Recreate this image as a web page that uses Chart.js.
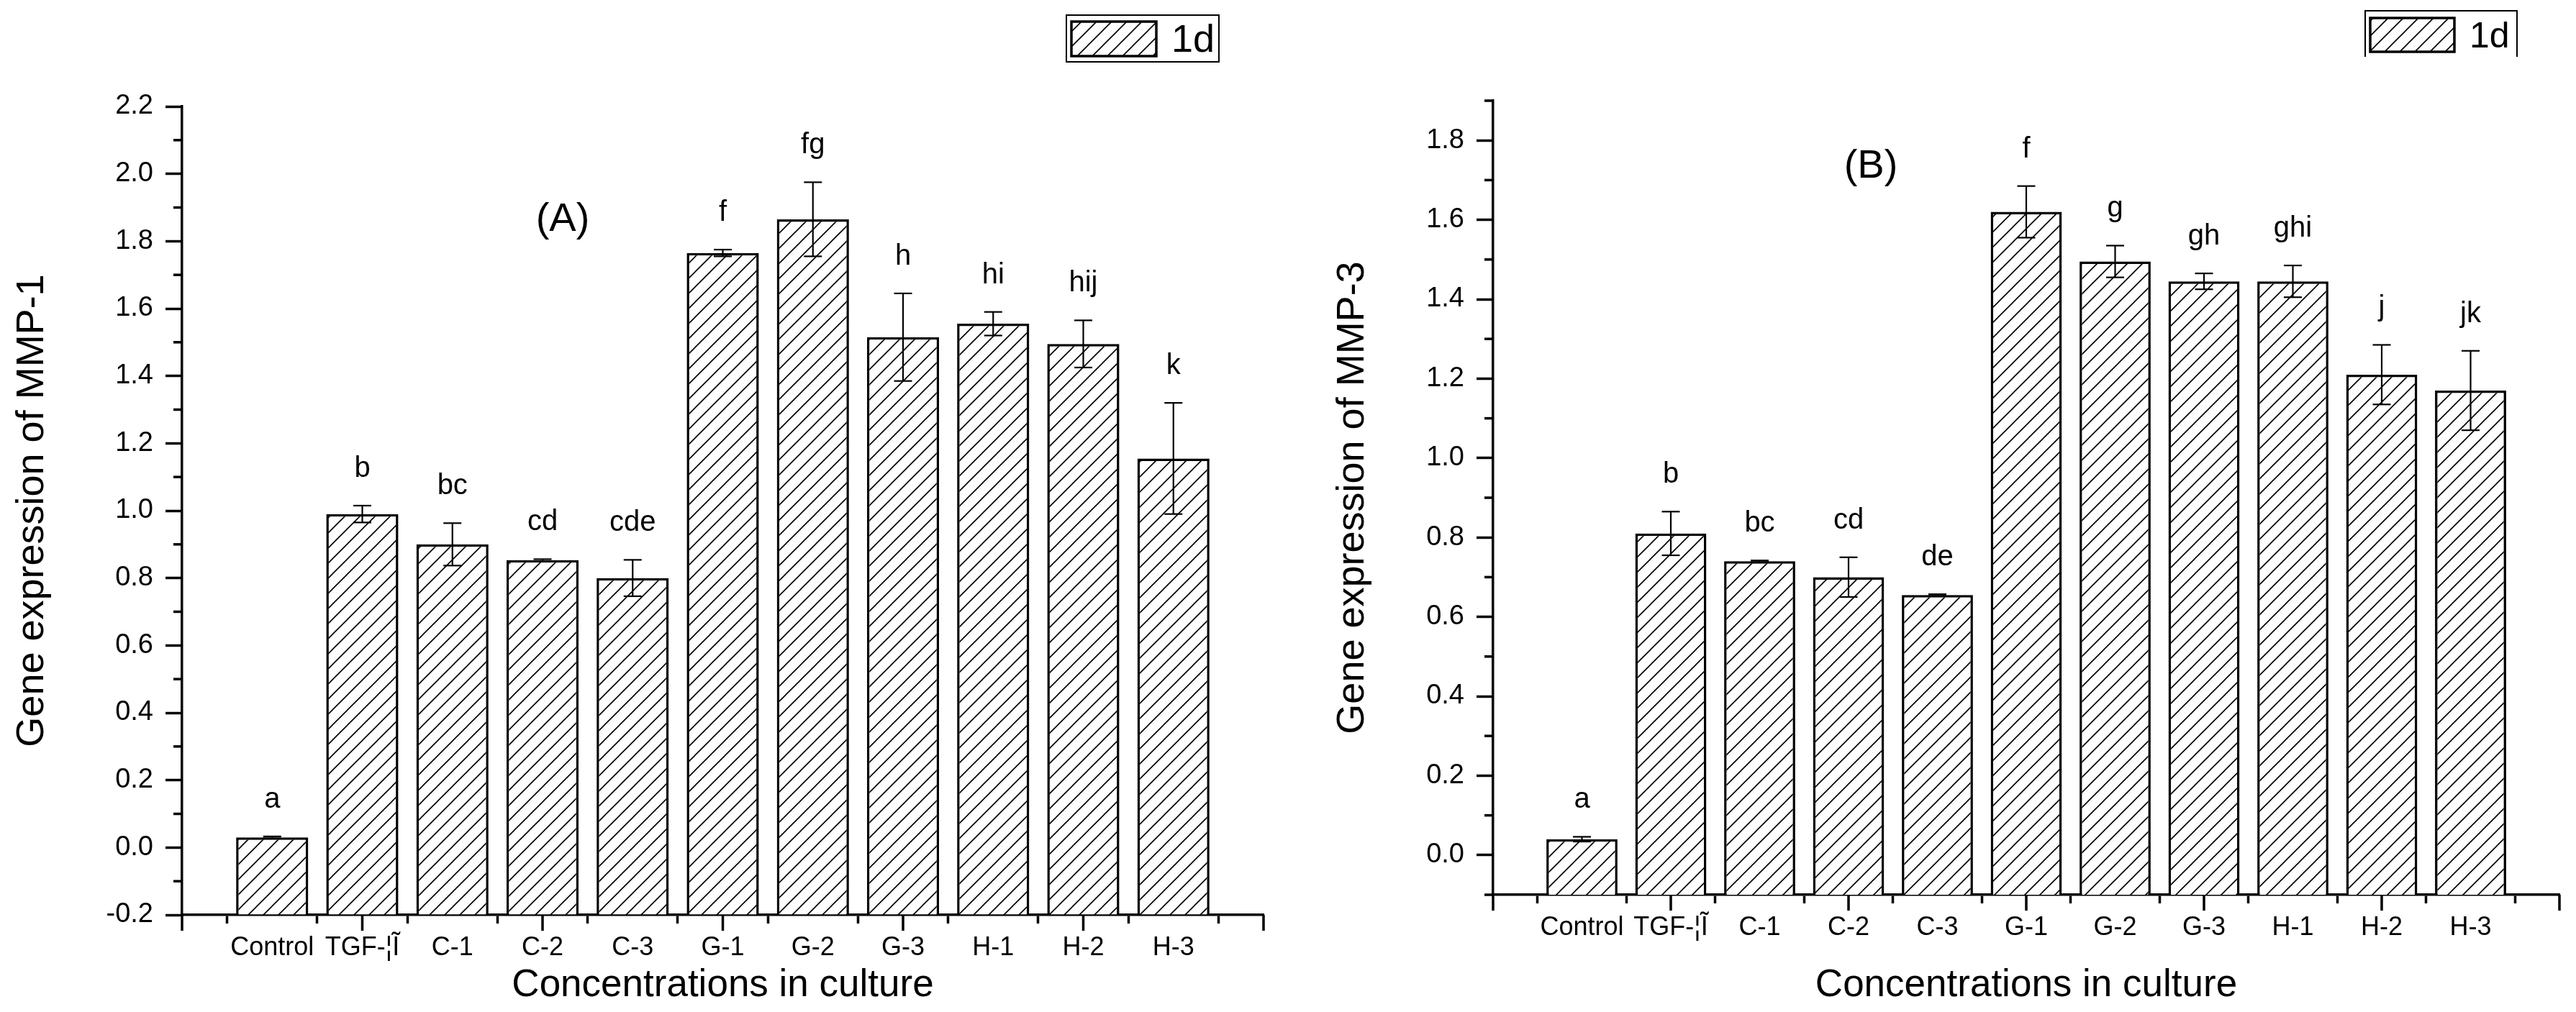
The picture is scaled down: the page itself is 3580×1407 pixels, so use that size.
<!DOCTYPE html>
<html>
<head>
<meta charset="utf-8">
<script src="https://cdn.jsdelivr.net/npm/chart.js@4.4.1/dist/chart.umd.min.js"></script>
<style>
  html, body { margin: 0; padding: 0; background: #fff; }
  #wrap { position: relative; width: 3580px; height: 1407px; }
  .panel { position: absolute; top: 0; width: 1790px; height: 1407px; }
</style>
</head>
<body>
<div id="wrap">
  <div class="panel" style="left:0"><canvas id="chartA" width="1790" height="1407"></canvas></div>
  <div class="panel" style="left:1790px"><canvas id="chartB" width="1790" height="1407"></canvas></div>
</div>
<script>
// categories on the x axis (TGF label kept as printed in the figure)
const categories = ['Control', 'TGF-¦Ĩ', 'C-1', 'C-2', 'C-3', 'G-1', 'G-2', 'G-3', 'H-1', 'H-2', 'H-3'];
const seriesLabel = '1d';

// panel A: MMP-1
const mmp1Values  = [0.03, 0.99, 0.90, 0.853, 0.80, 1.765, 1.865, 1.515, 1.555, 1.495, 1.155];
const mmp1Errors  = [0.003, 0.025, 0.063, 0.003, 0.054, 0.01, 0.11, 0.13, 0.035, 0.07, 0.165];
const mmp1Letters = ['a', 'b', 'bc', 'cd', 'cde', 'f', 'fg', 'h', 'hi', 'hij', 'k'];
const mmp1Range   = [-0.2, 2.2];
const mmp1Ticks   = [-0.2, 0.0, 0.2, 0.4, 0.6, 0.8, 1.0, 1.2, 1.4, 1.6, 1.8, 2.0, 2.2];

// panel B: MMP-3
const mmp3Values  = [0.04, 0.81, 0.74, 0.70, 0.655, 1.62, 1.495, 1.445, 1.445, 1.21, 1.17];
const mmp3Errors  = [0.006, 0.055, 0.002, 0.05, 0.002, 0.065, 0.04, 0.02, 0.04, 0.075, 0.10];
const mmp3Letters = ['a', 'b', 'bc', 'cd', 'de', 'f', 'g', 'gh', 'ghi', 'j', 'jk'];
const mmp3Range   = [-0.1, 1.9];
const mmp3Ticks   = [0.0, 0.2, 0.4, 0.6, 0.8, 1.0, 1.2, 1.4, 1.6, 1.8];

const FONT = "'Liberation Sans', Arial, sans-serif";

function hatchPattern(ctx) {
  const s = 21;
  const c = document.createElement('canvas');
  c.width = s; c.height = s;
  const g = c.getContext('2d');
  g.fillStyle = '#fff';
  g.fillRect(0, 0, s, s);
  g.strokeStyle = '#000';
  g.lineWidth = 1.6;
  g.beginPath();
  g.moveTo(-3, s + 3); g.lineTo(s + 3, -3);
  g.moveTo(-3, 3); g.lineTo(3, -3);
  g.moveTo(s - 3, s + 3); g.lineTo(s + 3, s - 3);
  g.stroke();
  return ctx.createPattern(c, 'repeat');
}

function line(ctx, x1, y1, x2, y2) {
  ctx.beginPath(); ctx.moveTo(x1, y1); ctx.lineTo(x2, y2); ctx.stroke();
}

// error bars, significance letters, minor ticks, panel tag and legend box
const extras = {
  id: 'extras',
  afterDraw(chart, args, o) {
    const { ctx, chartArea: area, scales: { x, y } } = chart;
    const meta = chart.getDatasetMeta(0);
    ctx.save();
    ctx.strokeStyle = '#000';
    ctx.fillStyle = '#000';

    // minor ticks halfway between the labelled ones
    ctx.lineWidth = 3.5;
    for (let v = o.ticks[0] - 0.1; v < y.max + 0.05; v += 0.2) {
      if (v < y.min - 0.05) continue;
      const py = y.getPixelForValue(v);
      line(ctx, area.left - 12, py, area.left, py);
    }
    // every second category slot has a long tick
    for (let i = 0; i < x.ticks.length; i += 2) {
      const px = x.getPixelForTick(i);
      line(ctx, px, area.bottom, px, area.bottom + 22);
    }

    ctx.font = '40px ' + FONT;
    ctx.textAlign = 'center';
    ctx.textBaseline = 'alphabetic';
    meta.data.forEach((bar, i) => {
      const k = i - 1;
      if (k < 0 || k >= o.values.length) return;
      const v = o.values[k], e = o.errors[k];
      const top = y.getPixelForValue(v + e), bot = y.getPixelForValue(v - e);
      ctx.lineWidth = 2.2;
      line(ctx, bar.x, top, bar.x, bot);
      line(ctx, bar.x - 12.5, top, bar.x + 12.5, top);
      line(ctx, bar.x - 12.5, bot, bar.x + 12.5, bot);
      ctx.fillText(o.letters[k], bar.x, top - 40);
    });

    // panel tag
    ctx.font = '56px ' + FONT;
    ctx.textBaseline = 'middle';
    ctx.fillText(o.tag, o.tagAt[0], o.tagAt[1]);

    // legend
    const L = o.legend;
    ctx.lineWidth = 2;
    ctx.beginPath();
    ctx.moveTo(L.box[0], L.box[1] + L.box[3]);
    ctx.lineTo(L.box[0], L.box[1]);
    ctx.lineTo(L.box[0] + L.box[2], L.box[1]);
    ctx.lineTo(L.box[0] + L.box[2], L.box[1] + L.box[3]);
    if (L.closed) ctx.closePath();
    ctx.stroke();
    ctx.fillStyle = chart.data.datasets[0].backgroundColor;
    ctx.fillRect(L.swatch[0], L.swatch[1], L.swatch[2], L.swatch[3]);
    ctx.lineWidth = 3.5;
    ctx.strokeRect(L.swatch[0], L.swatch[1], L.swatch[2], L.swatch[3]);
    ctx.fillStyle = '#000';
    ctx.font = L.size + 'px ' + FONT;
    ctx.textAlign = 'left';
    ctx.textBaseline = 'alphabetic';
    ctx.fillText(chart.data.datasets[0].label, L.text[0], L.text[1]);
    ctx.restore();
  }
};

function makeChart(id, values, errors, letters, range, ticks, yTitle, geo) {
  const ctx = document.getElementById(id).getContext('2d');
  return new Chart(ctx, {
    type: 'bar',
    data: {
      labels: [''].concat(categories, ['']),
      datasets: [{
        label: seriesLabel,
        data: [null].concat(values, [null]),
        base: range[0],
        backgroundColor: hatchPattern(ctx),
        borderColor: '#000',
        borderWidth: 3.5,
        borderSkipped: 'start',
        categoryPercentage: 1,
        barPercentage: 0.8
      }]
    },
    options: {
      responsive: false,
      animation: false,
      layout: { padding: { top: geo.top, right: geo.right, left: 0, bottom: 0 } },
      plugins: {
        legend: { display: false },
        tooltip: { enabled: false },
        extras: { values, errors, letters, ticks, tag: geo.tag, tagAt: geo.tagAt, legend: geo.legend }
      },
      scales: {
        x: {
          type: 'category',
          offset: false,
          grid: { drawOnChartArea: false, color: '#000', tickLength: 12, tickWidth: 3.5 },
          border: { color: '#000', width: 3.5 },
          ticks: { color: '#000', font: { family: FONT, size: 36 }, maxRotation: 0, autoSkip: false, padding: 12 },
          title: { display: true, text: 'Concentrations in culture', color: '#000',
                   font: { family: FONT, size: 53 }, padding: { top: 0, bottom: 5 } },
          afterFit(s) { s.height = geo.xHeight; }
        },
        y: {
          min: range[0],
          max: range[1],
          grid: { drawOnChartArea: false, color: '#000', tickLength: 23, tickWidth: 3.5 },
          border: { color: '#000', width: 3.5 },
          ticks: { color: '#000', padding: 17, font: { family: FONT, size: 38 },
                   callback: v => v.toFixed(1) },
          afterBuildTicks(s) { s.ticks = ticks.map(v => ({ value: v })); },
          title: { display: true, text: yTitle, color: '#000',
                   font: { family: FONT, size: 54 }, padding: { top: geo.yTitlePad, bottom: 0 } },
          afterFit(s) { s.width = geo.yWidth; }
        }
      }
    },
    plugins: [extras]
  });
}

makeChart('chartA', mmp1Values, mmp1Errors, mmp1Letters, mmp1Range, mmp1Ticks, 'Gene expression of MMP-1', {
  top: 148, right: 34, yWidth: 253, xHeight: 135, yTitlePad: 13,
  tag: '(A)', tagAt: [782, 306],
  legend: { box: [1482, 21, 212, 65], closed: true, swatch: [1489, 30, 118, 48], text: [1628, 72], size: 54 }
});

makeChart('chartB', mmp3Values, mmp3Errors, mmp3Letters, mmp3Range, mmp3Ticks, 'Gene expression of MMP-3', {
  top: 140, right: 23, yWidth: 285, xHeight: 163, yTitlePad: 58,
  tag: '(B)', tagAt: [810, 232],
  legend: { box: [1497, 15, 211, 64], closed: false, swatch: [1504, 25, 117, 47], text: [1642, 66], size: 50 }
});
</script>
</body>
</html>
